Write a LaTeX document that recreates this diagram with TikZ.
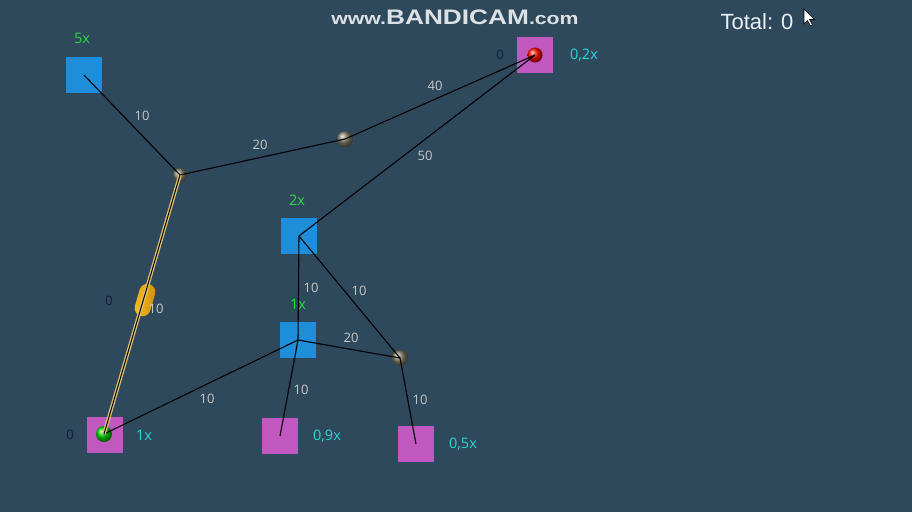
\documentclass[tikz,border=0pt]{standalone}
\usepackage{fontspec}
\setmainfont{Liberation Sans}
\newfontfamily\labfont{Open Sans}
\pgfdeclarelayer{bgl}\pgfdeclarelayer{sq}\pgfdeclarelayer{edges}
\pgfsetlayers{bgl,sq,main,edges}
\definecolor{bgc}{RGB}{46,72,92}
\definecolor{sqb}{RGB}{30,142,218}
\definecolor{sqp}{RGB}{192,88,192}
\definecolor{labgray}{RGB}{200,200,200}
\definecolor{labdark}{RGB}{20,30,60}
\definecolor{labgreen}{RGB}{40,220,60}
\definecolor{labcyan}{RGB}{40,215,215}
\definecolor{ballgr}{RGB}{135,128,105}
\definecolor{yel}{RGB}{225,195,110}
\definecolor{capc}{RGB}{245,165,25}
\definecolor{wm}{RGB}{220,225,230}
\tikzset{
  sqblue/.style={rectangle, minimum size=36pt, inner sep=0pt, fill=sqb},
  sqpink/.style={rectangle, minimum size=36pt, inner sep=0pt, fill=sqp},
  jball/.style={circle, minimum size=#1, inner sep=0pt, shading=ball, ball color=ballgr},
  conn/.style={black, line width=1.1pt},
  lab/.style={text=labgray, font=\labfont\fontsize{13}{13}\selectfont, inner sep=0pt},
  zlab/.style={text=labdark, font=\labfont\fontsize{13}{13}\selectfont, inner sep=0pt},
  glab/.style={text=labgreen, font=\labfont\fontsize{14.5}{14.5}\selectfont, inner sep=0pt},
  clab/.style={text=labcyan, font=\labfont\fontsize{14.5}{14.5}\selectfont, inner sep=0pt},
}
\begin{document}
\begin{tikzpicture}[x=1pt,y=-1pt]
\begin{pgfonlayer}{bgl}
\fill[bgc] (0,0) rectangle (912,512);
\end{pgfonlayer}
\useasboundingbox (0,0) rectangle (912,512);
% squares
\begin{pgfonlayer}{sq}
\node[sqblue] (s5) at (84,75) {};
\node[sqpink] (ptr) at (535,55) {};
\node[sqblue] (s2) at (299,236) {};
\node[sqblue] (s1) at (298,340) {};
\node[sqpink] (pbl) at (105,435) {};
\node[sqpink] (p9) at (280,436) {};
\node[sqpink] (p5) at (416,444) {};
\end{pgfonlayer}
% balls
\node[jball=14pt] (j1) at (180,175) {};
\node[jball=16pt] (j2) at (345,139) {};
\node[jball=16pt] (j3) at (400,358) {};
\node[circle, minimum size=15pt, inner sep=0pt, shading=ball, ball color=red!90!orange] (rb) at (535,55) {};
\node[circle, minimum size=16pt, inner sep=0pt, shading=ball, ball color=green!85!black] (gb) at (104,434) {};
% capsule
\node[rectangle, rounded corners=8pt, minimum width=16pt, minimum height=33pt, inner sep=0pt,
      rotate=-16, left color=capc!70!yellow, right color=capc!85!black] (cap) at (145,300) {};
% edges
\begin{pgfonlayer}{edges}
\draw[conn] (s5.center) -- (j1.center);
\draw[conn] (j1.center) -- (j2.center);
\draw[conn] (j2.center) -- (rb.center);
\draw[conn] (rb.center) -- (s2.center);
\draw[conn] (s2.center) -- (s1.center);
\draw[conn] (s2.center) -- (j3.center);
\draw[conn] (s1.center) -- (j3.center);
\draw[conn] (s1.center) -- (p9.center);
\draw[conn] (j3.center) -- (p5.center);
\draw[conn] (s1.center) -- (gb.center);
\draw[yel, line width=3.6pt] (j1.center) -- (gb.center);
\draw[conn, line width=1pt] (j1.center) -- (gb.center);
\end{pgfonlayer}
% edge labels
\node[lab] (l1) at (142,116) {10};
\node[lab] (l2) at (260,145) {20};
\node[lab] (l3) at (435,86) {40};
\node[lab] (l4) at (425,156) {50};
\node[lab] (l5) at (311,288) {10};
\node[lab] (l6) at (359,291) {10};
\node[lab] (l7) at (351,338) {20};
\node[lab] (l8) at (301,390) {10};
\node[lab] (l9) at (420,400) {10};
\node[lab] (l10) at (207,399) {10};
\node[lab] (l11) at (156,309) {10};
% zero labels
\node[zlab] (z1) at (500,55) {0};
\node[zlab] (z2) at (109,301) {0};
\node[zlab] (z3) at (70,435) {0};
% green labels
\node[glab] (g5) at (82,38) {5x};
\node[glab] (g2) at (297,200) {2x};
\node[glab] (g1) at (298,304) {1x};
% cyan labels
\node[clab] (c1) at (584,55) {0,2x};
\node[clab] (c2) at (144,435) {1x};
\node[clab] (c3) at (327,436) {0,9x};
\node[clab] (c4) at (463,444) {0,5x};
% total
\node[text={rgb,255:red,235;green,240;blue,245}, font=\fontsize{22}{22}\selectfont, inner sep=0pt] (tot) at (757,22) {Total: 0};
% cursor
\filldraw[fill=white, draw=black, line width=0.6pt, shift={(804,9)}] (0,0) -- (0,15) -- (3.5,11.5) -- (6.5,17) -- (8.5,16) -- (5.5,10.5) -- (10.5,10.5) -- cycle;
% watermark
\node[text=wm, inner sep=0pt, xscale=1.25] (wmk) at (455,17) {\bfseries{\fontsize{17}{17}\selectfont www.}{\fontsize{21}{21}\selectfont BANDICAM}{\fontsize{17}{17}\selectfont .com}};
\end{tikzpicture}
\end{document}
